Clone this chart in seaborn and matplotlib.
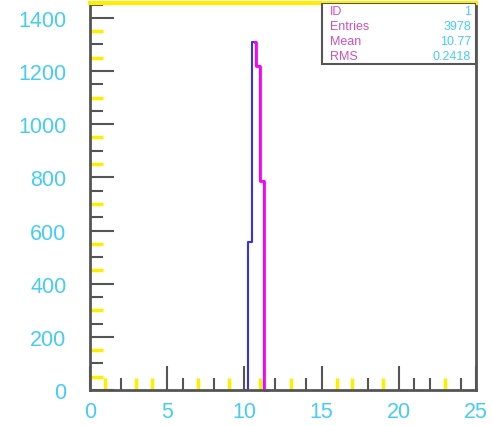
import numpy as np
import pandas as pd
import matplotlib
matplotlib.use("Agg")
import matplotlib.pyplot as plt
from matplotlib.patches import Rectangle
import seaborn as sns

# ---- data ----
bin_centers = [10.125, 10.375, 10.625, 10.875, 11.125, 11.375]
bin_counts = [0, 556, 1310, 1218, 785, 0]
x_tick_labels = ["0", "5", "10", "15", "20", "25"]
y_tick_labels = ["0", "200", "400", "600", "800", "1000", "1200", "1400"]
stat_names = ["ID", "Entries", "Mean", "RMS"]
stat_values = ["1", "3978", "10.77", "0.2418"]

df = pd.DataFrame({"x": bin_centers, "w": bin_counts})

sns.set_theme(style="white")
plt.rcParams["font.family"] = ["Liberation Sans", "DejaVu Sans"]

fig = plt.figure(figsize=(4.92, 4.27), dpi=100)
ax = fig.add_axes([90 / 492, 1 - 391 / 427, 386 / 492, 387 / 427])

sns.histplot(data=df, x="x", weights="w", binwidth=0.25, binrange=(10.0, 11.5),
             element="step", fill=False, color="#3030ff", linewidth=1.5, ax=ax)
n_before = len(ax.lines)
sns.histplot(data=df, x="x", weights="w", binwidth=0.25, binrange=(10.0, 11.5),
             element="step", fill=False, color="#ff00ff", linewidth=2.0, ax=ax)
for ln in ax.lines[n_before:]:
    ln.set_clip_path(Rectangle((10.64, -50), 10, 3000, transform=ax.transData))

ax.set_xlim(0, 25)
ax.set_ylim(0, 1456)
ax.set_xlabel("")
ax.set_ylabel("")

label_color = "#45cdf2"
dark = "#555555"
yellow = "#ffee00"

ax.set_xticks([0, 5, 10, 15, 20, 25])
ax.set_xticklabels(x_tick_labels)
ax.set_yticks([0, 200, 400, 600, 800, 1000, 1200, 1400])
ax.set_yticklabels(y_tick_labels)
ax.set_xticks(np.arange(1, 25), minor=True)
ax.set_yticks(np.arange(50, 1451, 50), minor=True)

ax.tick_params(axis="both", which="both", bottom=True, left=True, top=False, right=False)
ax.tick_params(axis="x", which="major", direction="in", length=17, width=1.5,
               color=dark, labelsize=15.5, labelcolor=label_color, pad=8)
ax.tick_params(axis="y", which="major", direction="in", length=17, width=1.5,
               color=dark, labelsize=15.5, labelcolor=label_color, pad=17)
ax.tick_params(axis="both", which="minor", direction="in", length=9, width=1.5,
               color=dark)

x_minor_colors = {1: "y", 3: "y", 4: "y", 6: "y", 8: "y", 9: "y", 11: "y", 13: "y",
                  14: "y", 16: "y", 19: "y", 21: "y", 24: "y"}
for t, v in zip(ax.xaxis.get_minor_ticks(), np.arange(1, 25)):
    if x_minor_colors.get(int(v)) == "y":
        t.tick1line.set_markeredgecolor(yellow)
        t.tick1line.set_markeredgewidth(2.5)
for i, t in enumerate(ax.yaxis.get_minor_ticks()):
    v = 50 * (i + 1)
    if (v // 50) % 2 == 1:
        t.tick1line.set_markeredgecolor(yellow)
        t.tick1line.set_markeredgewidth(2.5)

for s in ["left", "bottom", "right"]:
    ax.spines[s].set_color(dark)
    ax.spines[s].set_linewidth(2)
ax.spines["top"].set_color(yellow)
ax.spines["top"].set_linewidth(3)

# stats box
box = Rectangle((0.601, 0.842), 0.399, 0.158, transform=ax.transAxes,
                facecolor="white", edgecolor=dark, linewidth=1.5, zorder=5)
ax.add_patch(box)
ys = [0.979, 0.941, 0.902, 0.863]
for name, val, yy in zip(stat_names, stat_values, ys):
    ax.text(0.622, yy, name, transform=ax.transAxes, fontsize=9,
            color="#d050c0", ha="left", va="center", zorder=6)
    ax.text(0.987, yy, val, transform=ax.transAxes, fontsize=9,
            color=label_color, ha="right", va="center", zorder=6)

fig.savefig("out.png", dpi=100)
